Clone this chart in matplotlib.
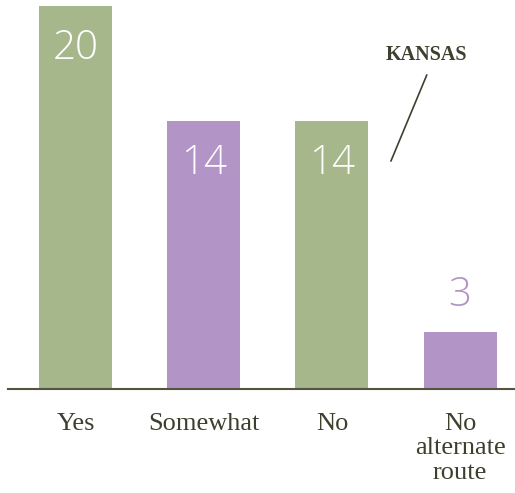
import matplotlib.pyplot as plt
import numpy as np

categories = ['Yes', 'Somewhat', 'No', 'No\nalternate\nroute']
values = [20, 14, 14, 3]
bar_colors = ['#a6b78c', '#b394c7', '#a6b78c', '#b394c7']

dark = '#3f3f2e'

fig = plt.figure(figsize=(5.15, 4.93), dpi=100)
# axes spans from the baseline up to the very top of the figure
ax = fig.add_axes([8 / 515, 1 - 389 / 493, 506 / 515, 389 / 493])

x = np.arange(len(categories))
bars = ax.bar(x, values, width=0.57, color=bar_colors)

ax.set_xlim(-0.527, 3.42)
ax.set_ylim(0, 20.31)

# value labels: inside for big bars, above for the small one
for xi, v, c in zip(x, values, bar_colors):
    if v > 5:
        ax.annotate(str(v), (xi, v), xytext=(0, -31), textcoords='offset points',
                    ha='center', va='center', color='white', fontsize=29,
                    family='Open Sans', fontweight='light')
    else:
        ax.annotate(str(v), (xi, v), xytext=(0, 26), textcoords='offset points',
                    ha='center', va='center', color=c, fontsize=29,
                    family='Open Sans', fontweight='light')

# callout
ax.text(2.74, 17.45, 'KANSAS', ha='center', va='center', fontsize=14.5,
        fontweight='bold', family='Liberation Serif', color=dark)
ax.annotate('', xy=(2.46, 11.9), xytext=(2.74, 16.4),
            arrowprops=dict(arrowstyle='-', color=dark, lw=1.2,
                            shrinkA=0, shrinkB=0))

for s in ['top', 'right', 'left']:
    ax.spines[s].set_visible(False)
ax.spines['bottom'].set_color('#55553f')
ax.spines['bottom'].set_linewidth(1.5)

ax.set_yticks([])
ax.set_xticks(x)
ax.set_xticklabels(categories, family='Liberation Serif', fontsize=19,
                   color=dark, linespacing=1.15)
ax.tick_params(axis='x', length=0, pad=17)

fig.savefig('out.png', dpi=100)
